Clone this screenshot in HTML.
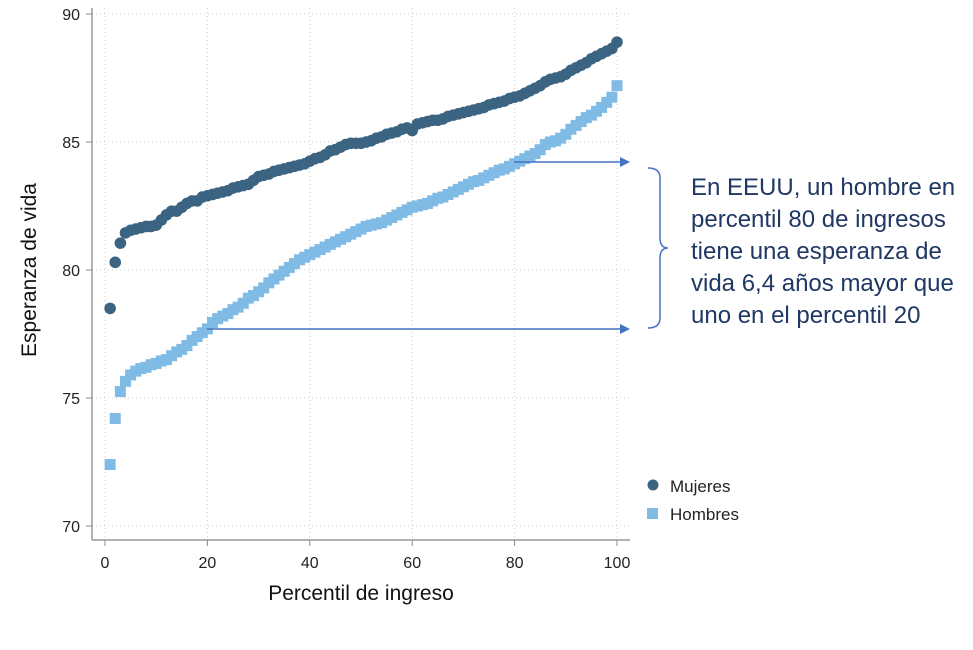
<!DOCTYPE html>
<html><head><meta charset="utf-8"><style>
body{margin:0;background:#fff;font-family:"Liberation Sans",sans-serif;}
svg text{font-family:"Liberation Sans",sans-serif;}
</style></head><body>
<svg id="chart" width="973" height="645" xmlns="http://www.w3.org/2000/svg">
<g id="grid"></g>
<g id="axes"></g>
<g id="series-h"></g>
<g id="series-m"></g>
<g>
<line x1="514" y1="162" x2="620" y2="162" stroke="#4472c4" stroke-width="1.5"/>
<polygon points="620,157 630,162 620,167" fill="#4472c4"/>
<line x1="207" y1="329" x2="620" y2="329" stroke="#4472c4" stroke-width="1.5"/>
<polygon points="620,324 630,329 620,334" fill="#4472c4"/>
<path d="M648,168 Q660,168 660,178 L660,238 Q660,248 668,248 Q660,248 660,258 L660,318 Q660,328 648,328" fill="none" stroke="#4472c4" stroke-width="1.5"/>
<text fill="#1f3864" font-size="24">
<tspan x="691" y="195">En EEUU, un hombre en</tspan>
<tspan x="691" y="227">percentil 80 de ingresos</tspan>
<tspan x="691" y="259">tiene una esperanza de</tspan>
<tspan x="691" y="291">vida 6,4 años mayor que</tspan>
<tspan x="691" y="323">uno en el percentil 20</tspan>
</text>
</g>
<g>
<circle cx="653" cy="485" r="5.5" fill="#3b6482"/>
<text x="670" y="492" font-size="17" fill="#222">Mujeres</text>
<rect x="647" y="508" width="11" height="11" fill="#80bbe6"/>
<text x="670" y="520" font-size="17" fill="#222">Hombres</text>
</g>
<text transform="translate(36,270) rotate(-90)" text-anchor="middle" font-size="21" fill="#111">Esperanza de vida</text>
<text x="361" y="600" text-anchor="middle" font-size="21" fill="#111">Percentil de ingreso</text>
</svg>
<script>
const mujeres=[78.5,80.3,81.05,81.45,81.55,81.6,81.65,81.7,81.7,81.75,81.95,82.15,82.3,82.3,82.45,82.6,82.7,82.7,82.85,82.9,82.95,83.0,83.05,83.1,83.2,83.25,83.3,83.35,83.5,83.65,83.7,83.75,83.85,83.9,83.95,84.0,84.05,84.1,84.15,84.25,84.35,84.4,84.5,84.65,84.7,84.8,84.9,84.95,84.95,84.95,85.0,85.05,85.15,85.2,85.3,85.35,85.4,85.5,85.55,85.45,85.7,85.75,85.8,85.85,85.85,85.9,86.0,86.05,86.1,86.15,86.2,86.25,86.3,86.35,86.45,86.5,86.55,86.6,86.7,86.75,86.8,86.9,87.0,87.1,87.2,87.35,87.45,87.5,87.55,87.65,87.8,87.9,88.0,88.1,88.25,88.35,88.45,88.55,88.65,88.9];
const hombres=[72.4,74.2,75.25,75.65,75.9,76.05,76.15,76.2,76.3,76.35,76.45,76.5,76.65,76.8,76.9,77.05,77.25,77.4,77.55,77.7,77.95,78.1,78.2,78.3,78.45,78.55,78.7,78.9,79.0,79.15,79.3,79.5,79.65,79.8,79.95,80.1,80.25,80.4,80.5,80.6,80.7,80.8,80.9,81.0,81.1,81.2,81.3,81.4,81.5,81.6,81.7,81.75,81.8,81.85,81.95,82.05,82.15,82.25,82.35,82.45,82.5,82.55,82.6,82.7,82.8,82.85,82.95,83.05,83.15,83.25,83.35,83.45,83.5,83.6,83.7,83.8,83.9,83.95,84.05,84.15,84.25,84.35,84.45,84.55,84.7,84.9,85.0,85.05,85.15,85.3,85.5,85.65,85.8,85.95,86.05,86.2,86.35,86.55,86.75,87.2];
const xTicks=[0,20,40,60,80,100];
const yTicks=[70,75,80,85,90];
const NS="http://www.w3.org/2000/svg";
function xs(v){return 105+v*5.12;}
function ys(v){return 14+(90-v)*25.6;}
function mk(tag,attrs,parent){const e=document.createElementNS(NS,tag);for(const k in attrs)e.setAttribute(k,attrs[k]);parent.appendChild(e);return e;}
const grid=document.getElementById('grid'),axes=document.getElementById('axes');
yTicks.forEach(t=>{
  const l=mk('line',{x1:92,x2:630,y1:ys(t),y2:ys(t),stroke:'#ccc','stroke-dasharray':'1 3'},grid);
  
  
  const tk=mk('line',{x1:86,x2:92,y1:ys(t),y2:ys(t),stroke:'#888'},axes);
  
  
  const tx=mk('text',{x:80,y:ys(t)+6,'text-anchor':'end','font-size':16,fill:'#222'},axes);
  tx.textContent=t;
  
  
});
xTicks.forEach(t=>{
  const l=mk('line',{x1:xs(t),x2:xs(t),y1:8,y2:540,stroke:'#ccc','stroke-dasharray':'1 3'},grid);
  
  
  const tk=mk('line',{x1:xs(t),x2:xs(t),y1:540,y2:546,stroke:'#888'},axes);
  
  
  const tx=mk('text',{x:xs(t),y:568,'text-anchor':'middle','font-size':16,fill:'#222'},axes);
  tx.textContent=t;
  
  
});
const ya=mk('line',{x1:92,x2:92,y1:8,y2:540,stroke:'#999','stroke-width':1.5},axes);


const xa=mk('line',{x1:92,x2:630,y1:540,y2:540,stroke:'#999','stroke-width':1.5},axes);


const gh=document.getElementById('series-h'),gm=document.getElementById('series-m');
hombres.forEach((v,i)=>{
  const r=mk('rect',{x:xs(i+1)-5.5,y:ys(v)-5.5,width:11,height:11,fill:'#80bbe6'},gh);
  
  
});
mujeres.forEach((v,i)=>{
  const c=mk('circle',{cx:xs(i+1),cy:ys(v),r:5.8,fill:'#3b6482'},gm);
  
  
});
</script>
</body></html>
